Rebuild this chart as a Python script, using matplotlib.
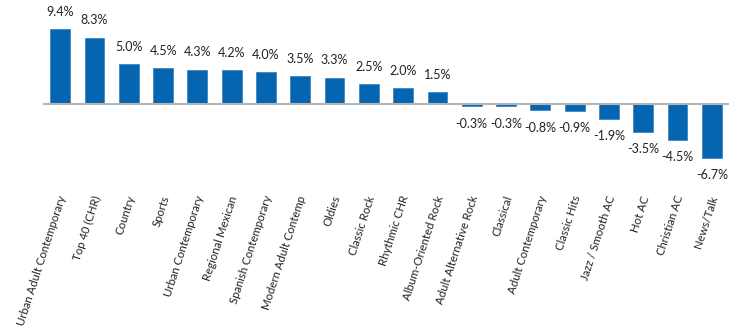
import matplotlib
matplotlib.use("Agg")
import matplotlib.pyplot as plt
from matplotlib.transforms import blended_transform_factory

categories = ["Urban Adult Contemporary", "Top 40 (CHR)", "Country", "Sports",
              "Urban Contemporary", "Regional Mexican", "Spanish Contemporary",
              "Modern Adult Contemp", "Oldies", "Classic Rock", "Rhythmic CHR",
              "Album-Oriented Rock", "Adult Alternative Rock", "Classical",
              "Adult Contemporary", "Classic Hits", "Jazz / Smooth AC", "Hot AC",
              "Christian AC", "News/Talk"]
values = [9.4, 8.3, 5.0, 4.5, 4.3, 4.2, 4.0, 3.5, 3.3, 2.5, 2.0, 1.5,
          -0.3, -0.3, -0.8, -0.9, -1.9, -3.5, -4.5, -6.7]
value_labels = [f"{v:.1f}%" for v in values]

plt.rcParams['font.family'] = ['Lato', 'DejaVu Sans']

W, H = 756, 335
fig = plt.figure(figsize=(W / 100, H / 100), dpi=100)
left, right = 43 / W, 729 / W
top, bottom = 1 - 16 / H, 1 - 168 / H
ax = fig.add_axes([left, bottom, right - left, top - bottom])

bar_color = "#0565B1"
x = list(range(len(categories)))
ax.bar(x, values, width=0.58, color=bar_color, edgecolor="#3f86c4", linewidth=0.6, zorder=2)
ax.axhline(0, color="#b5b5b5", linewidth=1.5, zorder=3)
ax.set_xlim(-0.5, len(categories) - 0.5)
ax.set_ylim(-8, 11)
ax.axis("off")

for xi, v, lab in zip(x, values, value_labels):
    if v >= 0:
        ax.annotate(lab, (xi, v), xytext=(0, 8), textcoords="offset points",
                    ha="center", va="bottom", fontsize=9, color="#222222")
    else:
        ax.annotate(lab, (xi, v), xytext=(0, -8), textcoords="offset points",
                    ha="center", va="top", fontsize=9, color="#222222")

trans = blended_transform_factory(ax.transData, fig.transFigure)
for xi, cat in zip(x, categories):
    ax.text(xi + 0.08, 1 - 196 / H, cat, transform=trans, rotation=72,
            rotation_mode="anchor", ha="right", va="center", fontsize=8.2,
            color="#222222")

fig.savefig("out.png", dpi=100, facecolor="white")
